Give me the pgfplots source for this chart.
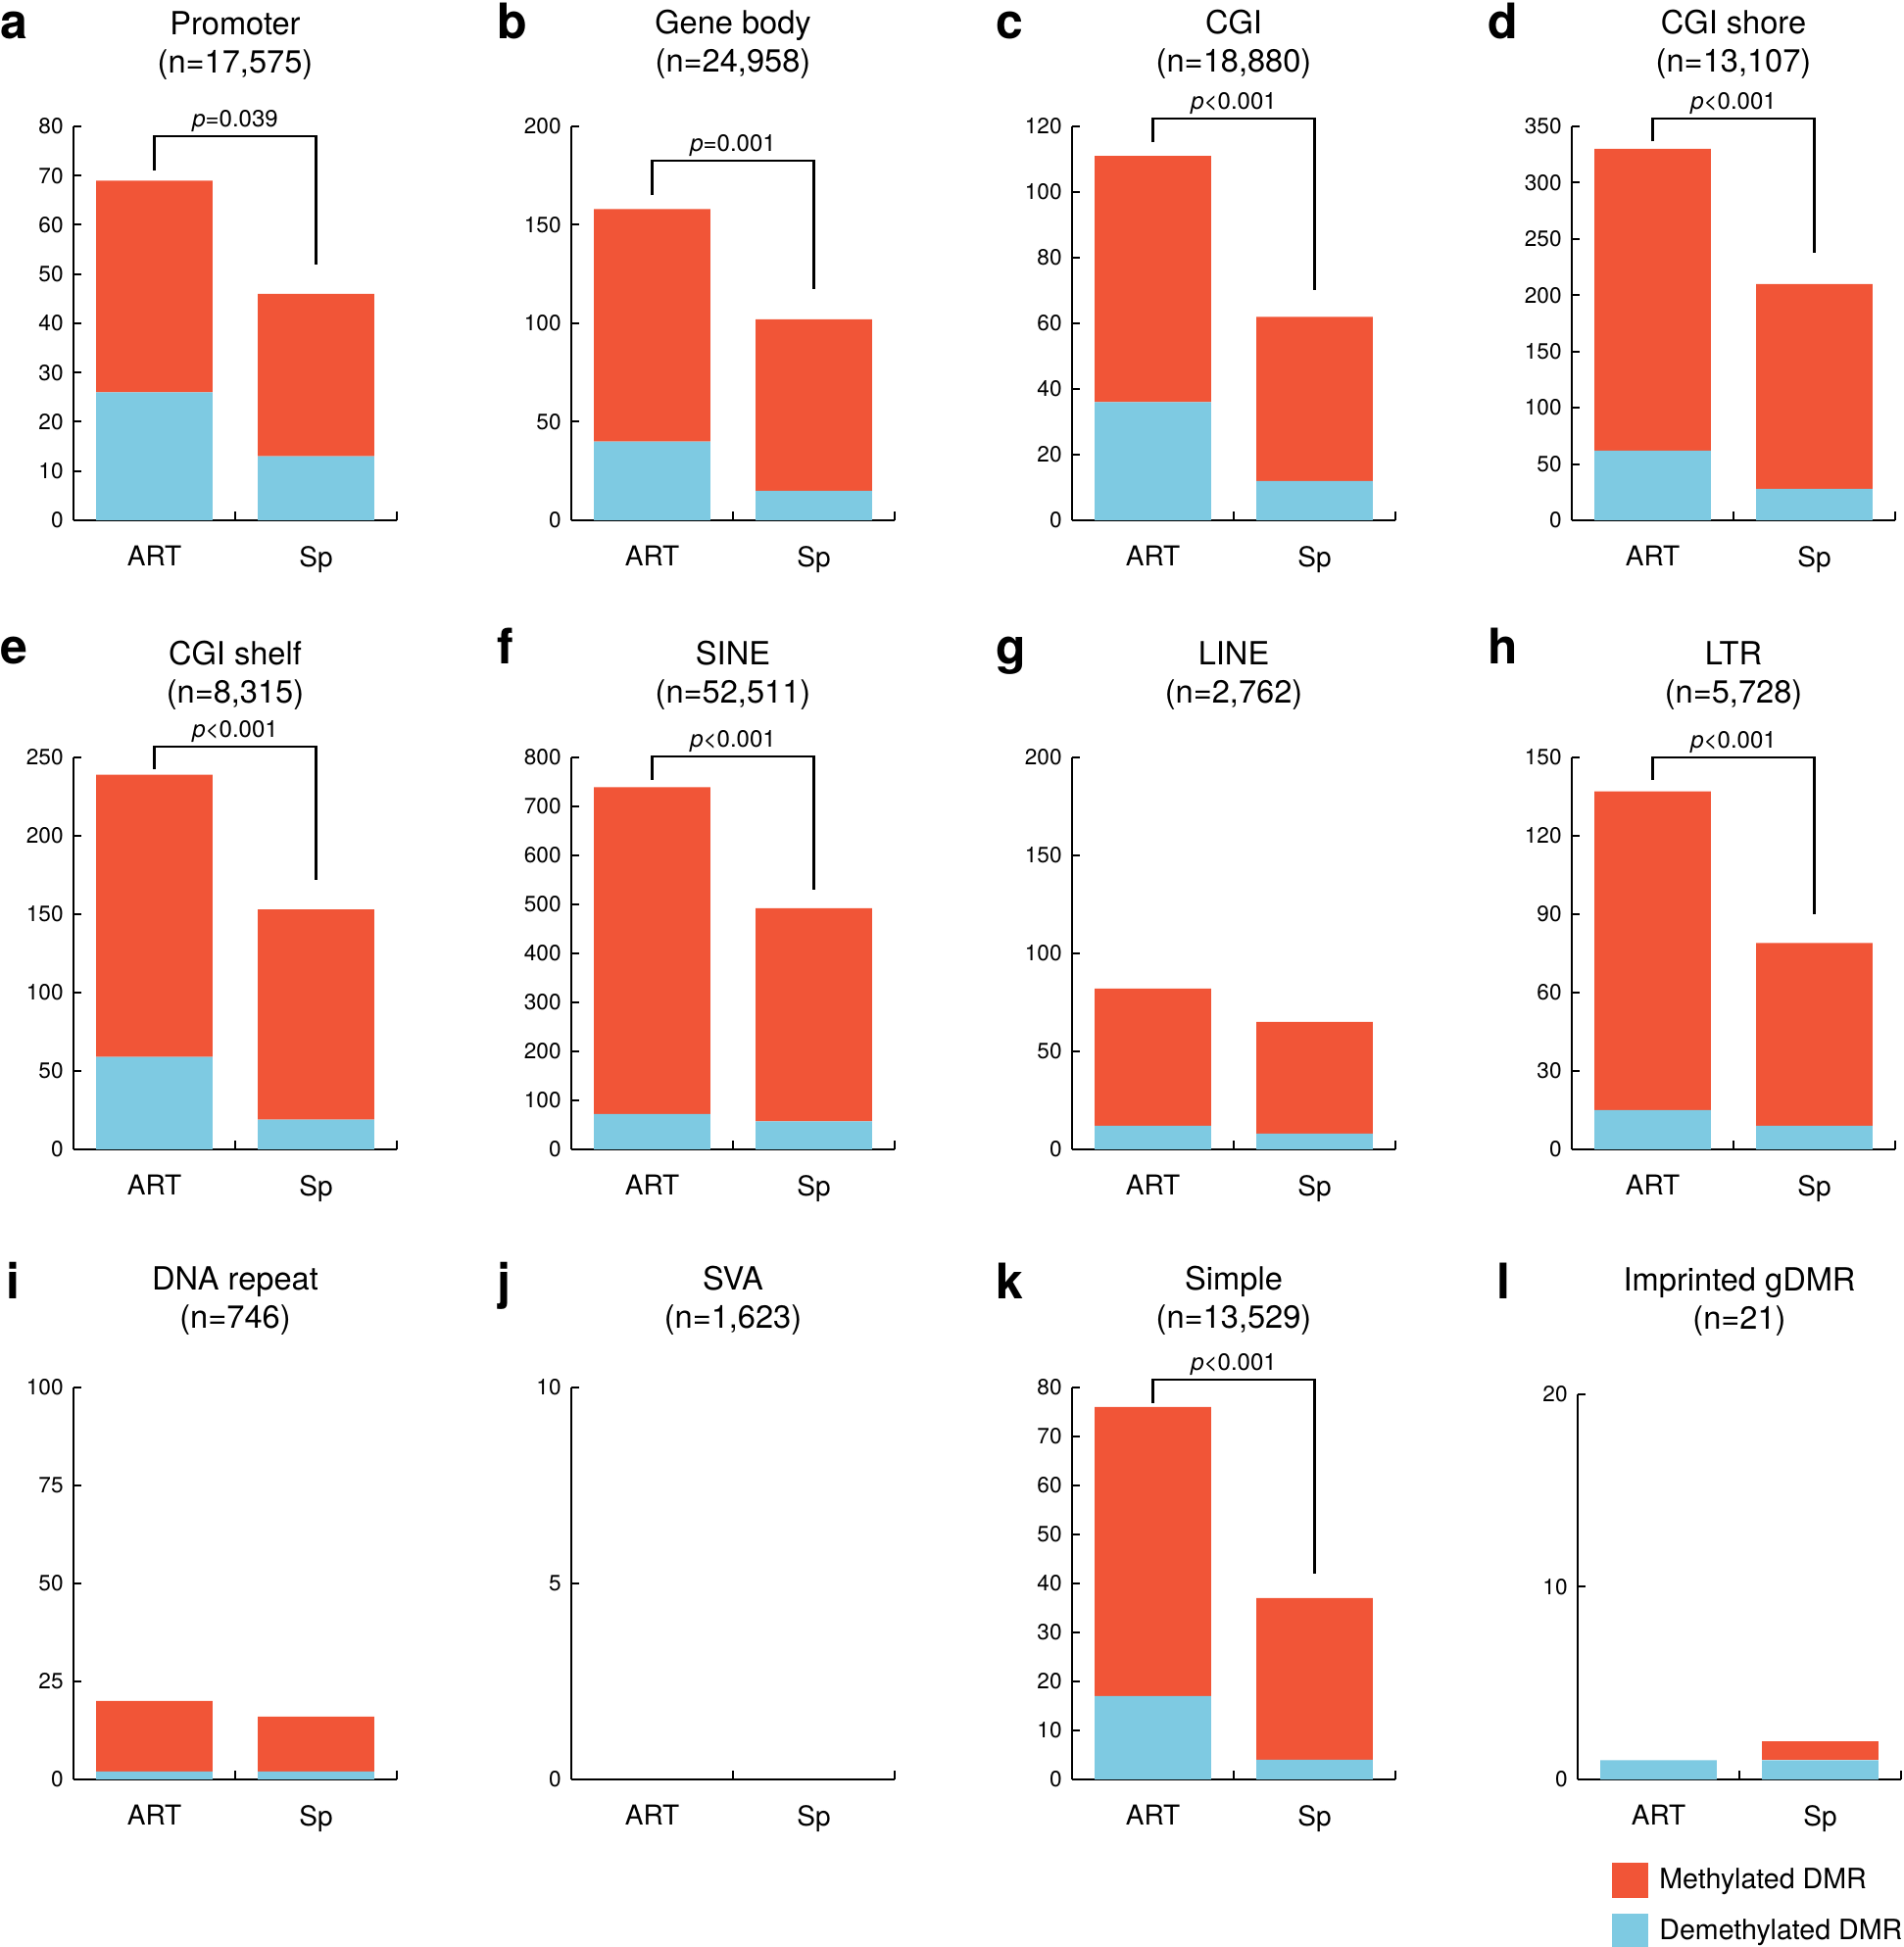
\documentclass[border=0pt]{standalone}
\usepackage{fontspec}
\setmainfont{TeX Gyre Heros}
\usepackage{pgfplots}
\pgfplotsset{compat=1.18}

\definecolor{metred}{RGB}{241,85,55}
\definecolor{demblue}{RGB}{126,202,226}

\tikzset{
  ttl/.style={anchor=base, inner sep=0pt, font=\fontsize{16.3}{19}\selectfont},
  brk/.style={line width=1.1pt, line join=miter},
  pval/.style={anchor=south, inner sep=0pt, yshift=2pt, font=\fontsize{12}{14}\selectfont},
  lett/.style={anchor=base west, inner sep=0pt, font=\bfseries\fontsize{25}{30}\selectfont},
}

\pgfplotsset{
  panel/.style={
    width=165pt, height=200pt, scale only axis,
    axis lines=left, axis line style={-, line width=1.1pt},
    xmin=-0.5, xmax=1.5, ymin=0, enlargelimits=false,
    xtick={0,1}, xticklabels={ART,Sp}, xtick style={draw=none},
    ytick align=inside, major tick length=4pt,
    every tick/.append style={black, line width=1pt},
    clip=false, ybar stacked, bar width=0.72,
    /pgf/number format/assume math mode=true,
    yticklabel style={font=\fontsize{11.3}{13}\selectfont, inner sep=0pt, xshift=-5pt},
    xticklabel style={font=\fontsize{14}{16}\selectfont, inner sep=0pt, yshift=-11pt},
  },
  dem/.style={fill=demblue, draw=none},
  met/.style={fill=metred, draw=none},
}

% small upward ticks between and after the two bars
\newcommand{\xtk}{%
  \draw[line width=1pt] (axis cs:0.5,0) -- ([yshift=4.5pt]axis cs:0.5,0);
  \draw[line width=1pt] (axis cs:1.5,0) -- ([yshift=4.5pt]axis cs:1.5,0);}

\begin{document}
\begin{tikzpicture}
\useasboundingbox (0,0) rectangle (971.5pt,993.5pt);

% panel letters
\foreach \l/\x/\y in {a/0/973.5, b/253.5/973.5, c/508/973.5, d/759/973.5,
                      e/0/654.5, f/253.5/654.5, g/508/654.5, h/759/654.5,
                      i/3/330.5, j/253.5/330.5, k/508/330.5, l/763.5/330.5}
  \node[lett] at (\x pt,\y pt) {\l};

% ---- row 1 ----
\begin{axis}[panel, at={(37.5pt,728pt)}, height=201pt, ymax=80, ytick={0,10,...,80}]
\addplot[dem] coordinates {(0,26) (1,13)};
\addplot[met] coordinates {(0,43) (1,33)};
\xtk
\node[ttl, yshift=47pt] at (rel axis cs:0.5,1) {Promoter};
\node[ttl, yshift=27.5pt] at (rel axis cs:0.5,1) {(n=17,575)};
\draw[brk] (axis cs:0,71) |- (axis cs:1,78) -- (axis cs:1,52);
\node[pval] at (axis cs:0.5,78) {\textit{p}=0.039};
\end{axis}

\begin{axis}[panel, at={(291.5pt,728pt)}, height=201pt, ymax=200, ytick={0,50,...,200}]
\addplot[dem] coordinates {(0,40) (1,15)};
\addplot[met] coordinates {(0,118) (1,87)};
\xtk
\node[ttl, yshift=47pt] at (rel axis cs:0.5,1) {Gene body};
\node[ttl, yshift=27.5pt] at (rel axis cs:0.5,1) {(n=24,958)};
\draw[brk] (axis cs:0,165) |- (axis cs:1,182.5) -- (axis cs:1,117.5);
\node[pval] at (axis cs:0.5,182.5) {\textit{p}=0.001};
\end{axis}

\begin{axis}[panel, at={(547pt,728pt)}, height=201pt, ymax=120, ytick={0,20,...,120}]
\addplot[dem] coordinates {(0,36) (1,12)};
\addplot[met] coordinates {(0,75) (1,50)};
\xtk
\node[ttl, yshift=47pt] at (rel axis cs:0.5,1) {CGI};
\node[ttl, yshift=27.5pt] at (rel axis cs:0.5,1) {(n=18,880)};
\draw[brk] (axis cs:0,115.2) |- (axis cs:1,122.3) -- (axis cs:1,70);
\node[pval] at (axis cs:0.5,122.3) {\textit{p}<0.001};
\end{axis}

\begin{axis}[panel, at={(802pt,728pt)}, height=201pt, ymax=350, ytick={0,50,...,350}]
\addplot[dem] coordinates {(0,62) (1,28)};
\addplot[met] coordinates {(0,268) (1,182)};
\xtk
\node[ttl, yshift=47pt] at (rel axis cs:0.5,1) {CGI shore};
\node[ttl, yshift=27.5pt] at (rel axis cs:0.5,1) {(n=13,107)};
\draw[brk] (axis cs:0,336.5) |- (axis cs:1,357) -- (axis cs:1,238);
\node[pval] at (axis cs:0.5,357) {\textit{p}<0.001};
\end{axis}

% ---- row 2 ----
\begin{axis}[panel, at={(37.5pt,407pt)}, ymax=250, ytick={0,50,...,250}]
\addplot[dem] coordinates {(0,59) (1,19)};
\addplot[met] coordinates {(0,180) (1,134)};
\xtk
\node[ttl, yshift=47pt] at (rel axis cs:0.5,1) {CGI shelf};
\node[ttl, yshift=27.5pt] at (rel axis cs:0.5,1) {(n=8,315)};
\draw[brk] (axis cs:0,242.5) |- (axis cs:1,257) -- (axis cs:1,172);
\node[pval] at (axis cs:0.5,257) {\textit{p}<0.001};
\end{axis}

\begin{axis}[panel, at={(291.5pt,407pt)}, ymax=800, ytick={0,100,...,800}]
\addplot[dem] coordinates {(0,72) (1,57)};
\addplot[met] coordinates {(0,667) (1,435)};
\xtk
\node[ttl, yshift=47pt] at (rel axis cs:0.5,1) {SINE};
\node[ttl, yshift=27.5pt] at (rel axis cs:0.5,1) {(n=52,511)};
\draw[brk] (axis cs:0,754) |- (axis cs:1,802) -- (axis cs:1,530);
\node[pval] at (axis cs:0.5,802) {\textit{p}<0.001};
\end{axis}

\begin{axis}[panel, at={(547pt,407pt)}, ymax=200, ytick={0,50,...,200}]
\addplot[dem] coordinates {(0,12) (1,8)};
\addplot[met] coordinates {(0,70) (1,57)};
\xtk
\node[ttl, yshift=47pt] at (rel axis cs:0.5,1) {LINE};
\node[ttl, yshift=27.5pt] at (rel axis cs:0.5,1) {(n=2,762)};
\end{axis}

\begin{axis}[panel, at={(802pt,407pt)}, ymax=150, ytick={0,30,...,150}]
\addplot[dem] coordinates {(0,15) (1,9)};
\addplot[met] coordinates {(0,122) (1,70)};
\xtk
\node[ttl, yshift=47pt] at (rel axis cs:0.5,1) {LTR};
\node[ttl, yshift=27.5pt] at (rel axis cs:0.5,1) {(n=5,728)};
\draw[brk] (axis cs:0,141.3) |- (axis cs:1,150) -- (axis cs:1,90);
\node[pval] at (axis cs:0.5,150) {\textit{p}<0.001};
\end{axis}

% ---- row 3 ----
\begin{axis}[panel, at={(37.5pt,85.5pt)}, ymax=100, ytick={0,25,...,100}]
\addplot[dem] coordinates {(0,2) (1,2)};
\addplot[met] coordinates {(0,18) (1,14)};
\xtk
\node[ttl, yshift=49.5pt] at (rel axis cs:0.5,1) {DNA repeat};
\node[ttl, yshift=30pt] at (rel axis cs:0.5,1) {(n=746)};
\end{axis}

\begin{axis}[panel, at={(291.5pt,85.5pt)}, ymax=10, ytick={0,5,10}]
\xtk
\node[ttl, yshift=49.5pt] at (rel axis cs:0.5,1) {SVA};
\node[ttl, yshift=30pt] at (rel axis cs:0.5,1) {(n=1,623)};
\end{axis}

\begin{axis}[panel, at={(547pt,85.5pt)}, ymax=80, ytick={0,10,...,80}]
\addplot[dem] coordinates {(0,17) (1,4)};
\addplot[met] coordinates {(0,59) (1,33)};
\xtk
\node[ttl, yshift=49.5pt] at (rel axis cs:0.5,1) {Simple};
\node[ttl, yshift=30pt] at (rel axis cs:0.5,1) {(n=13,529)};
\draw[brk] (axis cs:0,76.8) |- (axis cs:1,81.6) -- (axis cs:1,42);
\node[pval] at (axis cs:0.5,81.6) {\textit{p}<0.001};
\end{axis}

\begin{axis}[panel, at={(805pt,85.5pt)}, height=196.5pt, ymax=20, ytick={0,10,20},
  legend image code/.code={\fill[#1] (0pt,-9pt) rectangle (18.5pt,9pt);},
  reverse legend, legend cell align=left,
  legend style={at={(0.106,-0.214)}, anchor=north west, draw=none, fill=none,
    inner sep=0pt, row sep=8pt, font=\fontsize{14.3}{16}\selectfont,
    nodes={inner sep=0pt},
    /tikz/every odd column/.append style={column sep=5.5pt}}]
\addplot[dem] coordinates {(0,1) (1,1)};
\addlegendentry{Demethylated DMR}
\addplot[met] coordinates {(0,0) (1,1)};
\addlegendentry{Methylated DMR}
\xtk
\node[ttl, yshift=52.5pt] at (rel axis cs:0.5,1) {Imprinted gDMR};
\node[ttl, yshift=33pt] at (rel axis cs:0.5,1) {(n=21)};
\end{axis}
\end{tikzpicture}
\end{document}
